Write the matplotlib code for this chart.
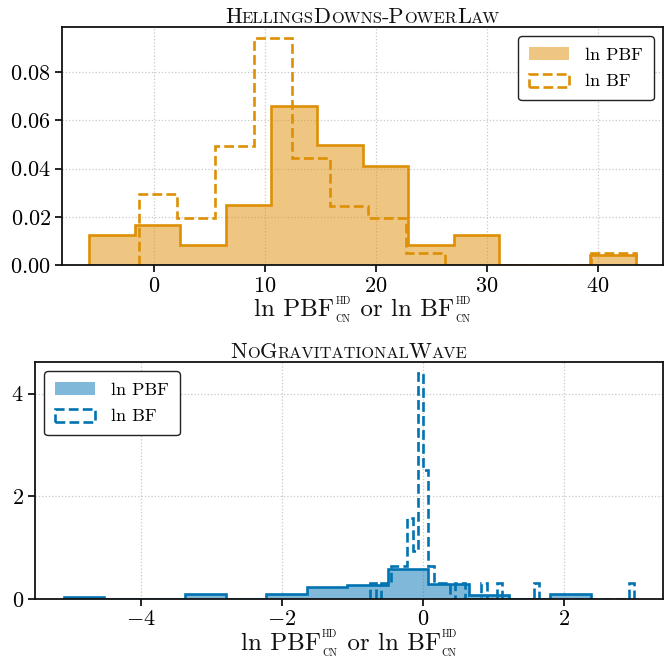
import numpy as np
import matplotlib
matplotlib.use("Agg")
import matplotlib.pyplot as plt
from matplotlib.ticker import FuncFormatter, MultipleLocator
from matplotlib.offsetbox import TextArea, HPacker, VPacker, AnchoredOffsetbox

plt.rcParams['font.family'] = ['cmr10', 'DejaVu Serif']
plt.rcParams['mathtext.fontset'] = 'cm'
plt.rcParams['axes.unicode_minus'] = False
plt.rcParams['axes.formatter.use_mathtext'] = True

# ---------------- data ----------------
# Panel 1: HellingsDowns-PowerLaw
hd_pbf_edges = [-5.81, -1.71, 2.39, 6.49, 10.59, 14.69, 18.79, 22.89, 26.99, 31.09, 35.19, 39.29, 43.39]
hd_pbf_density = [0.0124, 0.0165, 0.0083, 0.0248, 0.0661, 0.0496, 0.0413, 0.0083, 0.0124, 0.0, 0.0, 0.0041]
hd_bf_edges = [-1.33, 2.11, 5.55, 8.99, 12.43, 15.87, 19.31, 22.75, 26.19, 29.63, 33.07, 36.51, 39.36, 43.39]
hd_bf_density = [0.0296, 0.0197, 0.0493, 0.0940, 0.0443, 0.0246, 0.0197, 0.0049, 0.0, 0.0, 0.0, 0.0, 0.0049]

# Panel 2: NoGravitationalWave
ng_pbf_edges = [-5.10, -4.52, -3.95, -3.37, -2.80, -2.22, -1.65, -1.07, -0.49, 0.08, 0.66, 1.23, 1.81, 2.39]
ng_pbf_density = [0.035, 0.0, 0.0, 0.085, 0.0, 0.085, 0.23, 0.275, 0.58, 0.285, 0.08, 0.0, 0.10]
ng_bf_range = (-0.745, 3.005)
ng_bf_nbins = 50
ng_bf_density = [0.31, 0.0, 0.31, 0.31, 0.63, 0.63, 0.63, 1.57, 0.94, 4.40,
                 2.51, 0.63, 0.31, 0.31, 0.31, 0.0, 0.31, 0.31, 0.0, 0.0,
                 0.0, 0.31, 0.0, 0.0, 0.31, 0.0, 0.0, 0.0, 0.0, 0.0,
                 0.0, 0.31, 0.0, 0.0, 0.0, 0.0, 0.0, 0.0, 0.0, 0.0,
                 0.0, 0.0, 0.0, 0.0, 0.0, 0.0, 0.0, 0.0, 0.0, 0.31]

titles = [
    [("H", "big"), ("ELLINGS", "small"), ("D", "big"), ("OWNS", "small"), ("-P", "big"),
     ("OWER", "small"), ("L", "big"), ("AW", "small")],
    [("N", "big"), ("O", "small"), ("G", "big"), ("RAVITATIONAL", "small"), ("W", "big"), ("AVE", "small")],
]
legend_labels = ["ln PBF", "ln BF"]
xlabel_parts = ["ln PBF", " or ln BF"]
xlabel_sup, xlabel_sub = "HD", "CN"

orange = "#DE8F05"
blue = "#0173B2"
ink = "#111111"

# ---------------- figure ----------------
fig = plt.figure(figsize=(6.67, 6.58), dpi=100)
ax1 = fig.add_axes([0.093, 0.597, 0.901, 0.362])
ax2 = fig.add_axes([0.0525, 0.090, 0.9415, 0.360])

def centers(edges):
    e = np.asarray(edges, dtype=float)
    return 0.5 * (e[:-1] + e[1:])

def draw(ax, pedges, pdens, bedges, bdens, color):
    ax.hist(centers(pedges), bins=pedges, weights=pdens, histtype='bar', rwidth=1.0,
            color=color, alpha=0.5, linewidth=0, label=legend_labels[0])
    ax.hist(centers(pedges), bins=pedges, weights=pdens, histtype='step',
            color=color, linewidth=1.9)
    ax.hist(centers(bedges), bins=bedges, weights=bdens, histtype='step',
            color=color, linewidth=1.9, linestyle='--', label=legend_labels[1])

draw(ax1, hd_pbf_edges, hd_pbf_density, hd_bf_edges, hd_bf_density, orange)
ng_bf_edges = np.linspace(ng_bf_range[0], ng_bf_range[1], ng_bf_nbins + 1)
draw(ax2, ng_pbf_edges, ng_pbf_density, ng_bf_edges, ng_bf_density, blue)

def smallcaps_title(ax, parts):
    kids = []
    for txt, kind in parts:
        fs = 16 if kind == "big" else 11.8
        kids.append(TextArea(txt, textprops=dict(fontsize=fs, family='cmr10', color=ink)))
    box = HPacker(children=kids, align='baseline', pad=0, sep=0)
    ab = AnchoredOffsetbox(loc='lower center', child=box, bbox_to_anchor=(0.5, 1.0),
                           bbox_transform=ax.transAxes, frameon=False, pad=0, borderpad=0.0)
    ax.add_artist(ab)

def fancy_xlabel(ax, ypx):
    big = dict(fontsize=18, family='cmr10', color=ink)
    small = dict(fontsize=7.3, family='cmr10', color=ink)

    def script():
        return VPacker(children=[TextArea(xlabel_sup, textprops=small),
                                 TextArea(xlabel_sub, textprops=small)],
                       align='left', pad=0, sep=6.3)
    box = HPacker(children=[TextArea(xlabel_parts[0], textprops=big), script(),
                            TextArea(xlabel_parts[1], textprops=big), script()],
                  align='center', pad=0, sep=0.8)
    h = ax.get_position().height * fig.get_size_inches()[1] * fig.dpi
    ab = AnchoredOffsetbox(loc='upper center', child=box, bbox_to_anchor=(0.5, -ypx / h),
                           bbox_transform=ax.transAxes, frameon=False, pad=0, borderpad=0.0)
    ax.add_artist(ab)

fmt_top_y = FuncFormatter(lambda v, p: r"$%.2f$" % v)
fmt_int = FuncFormatter(lambda v, p: r"$%d$" % int(round(v)))

for ax, t in zip([ax1, ax2], titles):
    smallcaps_title(ax, t)
    fancy_xlabel(ax, 31)
    ax.grid(True, linestyle=':', color='#c8c8c8', linewidth=0.9)
    ax.set_axisbelow(True)
    for s in ax.spines.values():
        s.set_linewidth(1.3)
        s.set_color(ink)
    ax.tick_params(direction='out', length=5, width=1.2, labelsize=16, pad=3,
                   top=False, right=False)
    ax.xaxis.set_major_formatter(fmt_int)

ax1.xaxis.set_major_locator(MultipleLocator(10))
ax1.yaxis.set_major_locator(MultipleLocator(0.02))
ax1.yaxis.set_major_formatter(fmt_top_y)
ax2.xaxis.set_major_locator(MultipleLocator(2))
ax2.yaxis.set_major_locator(MultipleLocator(2))
ax2.yaxis.set_major_formatter(fmt_int)

for ax, loc in [(ax1, 'upper right'), (ax2, 'upper left')]:
    leg = ax.legend(loc=loc, fontsize=13, frameon=True, fancybox=True, framealpha=1.0,
                    edgecolor='#222222', handlelength=2.2, handleheight=0.75,
                    borderpad=0.6, labelspacing=0.6, handletextpad=0.9)
    leg.get_frame().set_linewidth(1.0)

fig.savefig("out.png", dpi=100)
